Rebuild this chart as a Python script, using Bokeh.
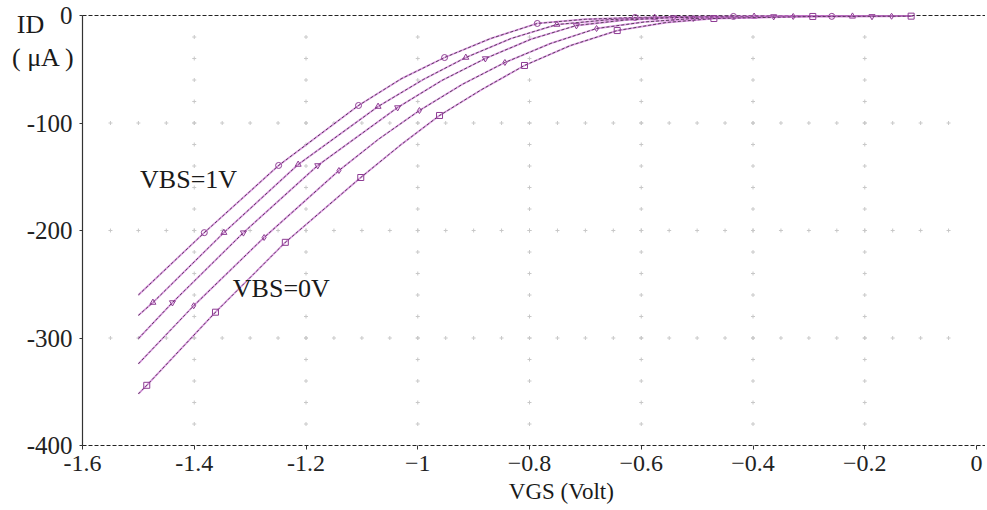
import numpy as np
from bokeh.plotting import figure
from bokeh.models import Range1d, Label, FixedTicker
from bokeh.embed import file_html
from bokeh.resources import INLINE

# ---------------- data ----------------
x_ticks = [-1.6, -1.4, -1.2, -1.0, -0.8, -0.6, -0.4, -0.2, 0.0]
x_tick_labels = ["-1.6", "-1.4", "-1.2", "\u22121", "\u22120.8", "\u22120.6", "\u22120.4", "\u22120.2", "0"]
y_ticks = [0, -100, -200, -300, -400]
y_tick_labels = ["0", "-100", "-200", "-300", "-400"]

# VBS = 1V (top curve)
c1_x = [-1.50, -1.382, -1.249, -1.106, -1.03, -0.952, -0.87, -0.786, -0.70, -0.611, -0.52, -0.435, -0.115]
c1_y = [-260, -202, -139.5, -83.7, -59, -39.1, -21.5, -7.4, -3.5, -1.9, -1.0, -0.9, -0.6]
m1_x = [-1.382, -1.249, -1.106, -0.952, -0.786, -0.611, -0.435, -0.259]
m1_y = [-202, -139.5, -83.7, -39.1, -7.4, -1.9, -0.9, -0.8]

c2_x = [-1.50, -1.474, -1.347, -1.214, -1.071, -0.99, -0.914, -0.833, -0.751, -0.66, -0.576, -0.40, -0.115]
c2_y = [-279, -267, -202, -138.6, -84.7, -59.5, -39.1, -21.4, -8.4, -4.0, -1.9, -0.9, -0.6]
m2_x = [-1.474, -1.347, -1.214, -1.071, -0.914, -0.751, -0.576, -0.398, -0.222]
m2_y = [-267, -202, -138.6, -84.7, -39.1, -8.4, -1.9, -0.9, -0.8]

c3_x = [-1.50, -1.439, -1.312, -1.179, -1.036, -0.957, -0.879, -0.797, -0.716, -0.629, -0.542, -0.363, -0.115]
c3_y = [-300.5, -267, -202, -139.5, -85.6, -60.5, -40.0, -22.0, -9.3, -4.2, -1.9, -0.9, -0.6]
m3_x = [-1.439, -1.312, -1.179, -1.036, -0.879, -0.716, -0.542, -0.363, -0.187]
m3_y = [-267, -202, -139.5, -85.6, -40.0, -9.3, -1.9, -0.9, -0.8]

c4_x = [-1.50, -1.401, -1.275, -1.141, -1.07, -0.997, -0.920, -0.844, -0.762, -0.680, -0.594, -0.507, -0.328, -0.115]
c4_y = [-324, -270, -206.5, -144.2, -115, -88.4, -64, -43.7, -26, -12.1, -6.0, -2.8, -0.9, -0.6]
m4_x = [-1.401, -1.275, -1.141, -0.997, -0.844, -0.680, -0.507, -0.328, -0.152]
m4_y = [-270, -206.5, -144.2, -88.4, -43.7, -12.1, -2.8, -0.9, -0.7]

# VBS = 0V (bottom curve)
c5_x = [-1.50, -1.485, -1.362, -1.237, -1.102, -1.032, -0.961, -0.886, -0.809, -0.727, -0.643, -0.555, -0.470, -0.293, -0.115]
c5_y = [-352, -344, -276, -211, -150.7, -121, -93, -69, -46.5, -28, -14, -6.5, -2.8, -0.9, -0.6]
m5_x = [-1.485, -1.362, -1.237, -1.102, -0.961, -0.809, -0.643, -0.470, -0.293, -0.117]
m5_y = [-344, -276, -211, -150.7, -93, -46.5, -14, -2.8, -0.9, -0.6]

curves = [(c1_x, c1_y, m1_x, m1_y, "circle"),
          (c2_x, c2_y, m2_x, m2_y, "triangle"),
          (c3_x, c3_y, m3_x, m3_y, "inverted_triangle"),
          (c4_x, c4_y, m4_x, m4_y, "diamond"),
          (c5_x, c5_y, m5_x, m5_y, "square")]

FONT = "Liberation Serif"
X0, X1 = -1.6, 0.0
Y0, Y1 = -400, 0

# ---------------- layout (pixels) ----------------
W, H = 985, 506
LEFT, RIGHT_X0 = 82, 976      # page x of X0 and X1
TOP, BOTTOM = 15, 445         # page y of Y1 and Y0
SX = (RIGHT_X0 - LEFT) / (X1 - X0)
SY = (BOTTOM - TOP) / (Y1 - Y0)

p = figure(width=W, height=H,
           x_range=Range1d(X0 - LEFT / SX, X1 + (W - RIGHT_X0) / SX),
           y_range=Range1d(Y0 - (H - BOTTOM) / SY, Y1 + TOP / SY),
           output_backend="svg", toolbar_location=None, min_border=0)
p.outline_line_color = None
p.xgrid.visible = False
p.ygrid.visible = False
p.background_fill_color = "white"
p.border_fill_color = "white"

# dotted grid (small crosses)
gx_h = np.round(np.arange(-1.55, -0.0001, 0.05), 3)
gy_v = np.arange(-380, -1, 20)
grid_x, grid_y = [], []
for yy in [-100, -200, -300]:
    grid_x += list(gx_h)
    grid_y += [yy] * len(gx_h)
for xx in [-1.4, -1.2, -1.0, -0.8, -0.6, -0.4, -0.2]:
    grid_x += [xx] * len(gy_v)
    grid_y += list(gy_v)
p.scatter(grid_x, grid_y, marker="cross", size=4, line_color="#c8c8c8", line_width=1)

# axes at fixed positions
xa = p.xaxis[0]
xa.fixed_location = Y0
xa.ticker = FixedTicker(ticks=x_ticks)
xa.major_label_overrides = {t: l for t, l in zip(x_ticks, x_tick_labels)}
xa.axis_line_color = None
xa.major_tick_line_color = "#333333"
xa.major_tick_out = 4
xa.major_tick_in = 0
xa.minor_tick_out = 0
xa.minor_tick_in = 0
xa.major_label_standoff = 6
xa.major_label_text_font = FONT
xa.major_label_text_font_size = "24px"
xa.major_label_text_color = "#222222"

ya = p.yaxis[0]
ya.fixed_location = X0
ya.ticker = FixedTicker(ticks=y_ticks)
ya.major_label_overrides = {t: l for t, l in zip(y_ticks, y_tick_labels)}
ya.axis_line_color = None
ya.major_tick_line_color = "#333333"
ya.major_tick_out = 3
ya.major_tick_in = 0
ya.minor_tick_out = 0
ya.minor_tick_in = 0
ya.major_label_standoff = 7
ya.major_label_text_font = FONT
ya.major_label_text_font_size = "25px"
ya.major_label_text_color = "#222222"

# frame lines: solid left axis, dashed lines at 0 and -400
x_end = p.x_range.end
p.segment(x0=[X0], y0=[Y0], x1=[X0], y1=[Y1], line_color="#333333", line_width=1.2)
p.segment(x0=[X0, X0], y0=[Y1, Y0], x1=[x_end, x_end], y1=[Y1, Y0],
          line_color="#222222", line_width=1, line_dash="4 2")

# curves
for cx, cy, mx, my, mk in curves:
    p.line(cx, cy, line_color="#d27ad8", line_width=1.8, line_alpha=0.75)
    p.line(cx, cy, line_color="#3a2a3c", line_width=0.8, line_dash="3 2")
    p.scatter(mx, my, marker=mk, size=6, line_color="#8e3c94", fill_color=None, line_width=1)

# labels
p.add_layout(Label(x=-1.497, y=-153, text="VBS=1V", text_align="left", text_baseline="middle",
                   text_font=FONT, text_font_size="26px", text_color="#1a1a1a"))
p.add_layout(Label(x=-1.331, y=-254, text="VBS=0V", text_align="left", text_baseline="middle",
                   text_font=FONT, text_font_size="26px", text_color="#1a1a1a"))
p.add_layout(Label(x=X0 - (LEFT - 30) / SX, y=-8.4, text="ID", text_align="center", text_baseline="middle",
                   text_font=FONT, text_font_size="26px", text_color="#1a1a1a"))
p.add_layout(Label(x=X0 - (LEFT - 43) / SX, y=-39, text="( \u03bcA )", text_align="center", text_baseline="middle",
                   text_font=FONT, text_font_size="26px", text_color="#1a1a1a"))
p.add_layout(Label(x=-0.743, y=-(491 - TOP) / SY, text="VGS (Volt)", text_align="center", text_baseline="middle",
                   text_font=FONT, text_font_size="23px", text_color="#1a1a1a"))

open("out.html", "w").write(file_html(p, INLINE))
